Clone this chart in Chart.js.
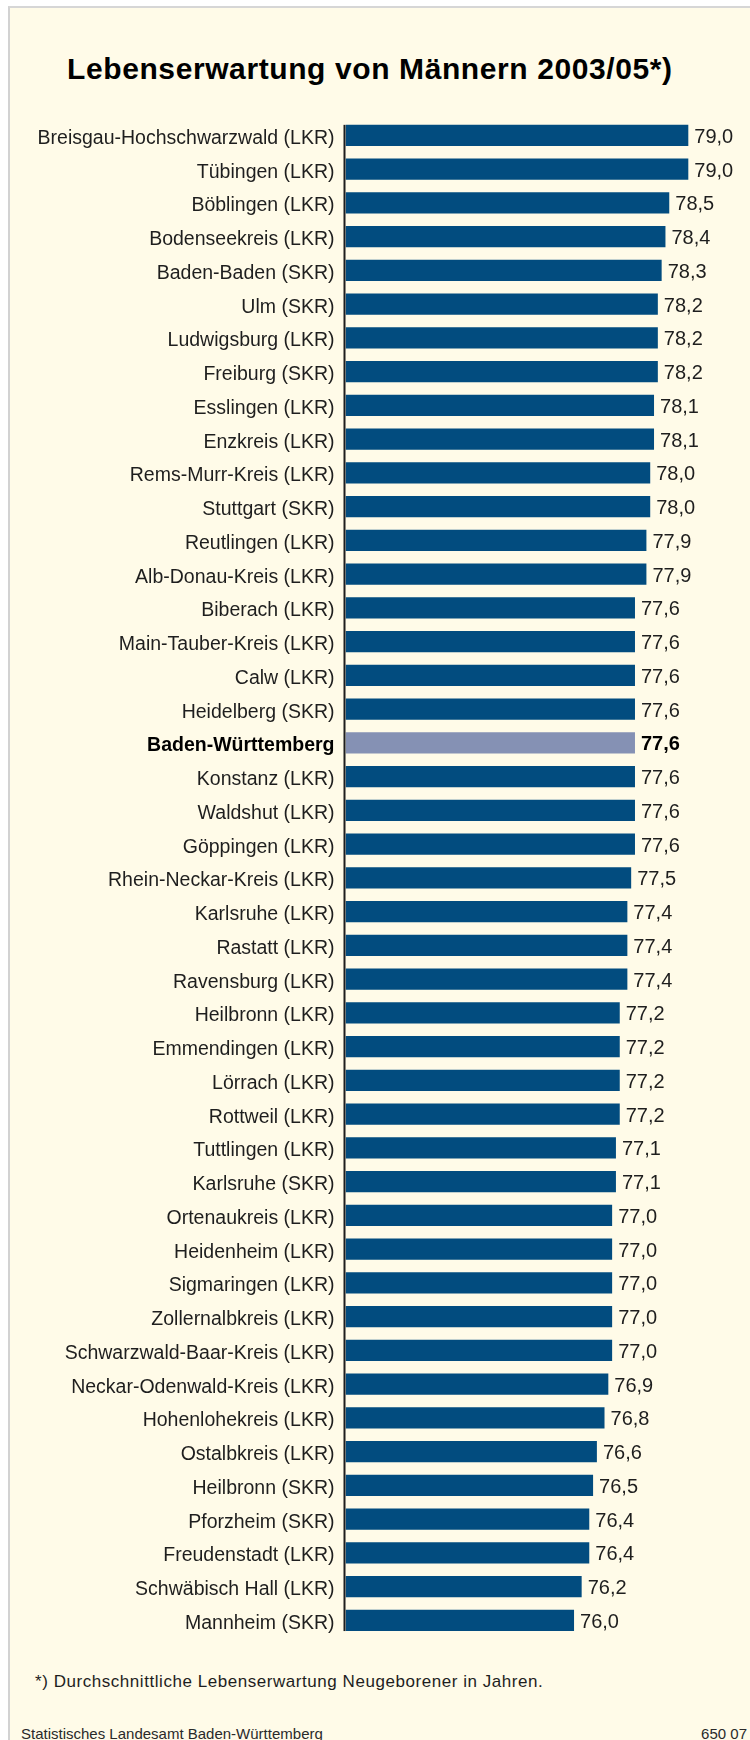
<!DOCTYPE html>
<html lang="de">
<head>
<meta charset="utf-8">
<title>Lebenserwartung von Männern 2003/05</title>
<script src="https://cdn.jsdelivr.net/npm/chart.js@4.4.1/dist/chart.umd.min.js"></script>
<style>
    html, body {
        margin: 0;
        padding: 0;
        background: #ffffff;
    }
    #page {
        position: relative;
        width: 750px;
        height: 1740px;
        overflow: hidden;
        font-family: "Liberation Sans", Arial, sans-serif;
        color: #1e1e1e;
    }
    #panel {
        position: absolute;
        left: 8px;
        top: 6px;
        right: -4px;
        bottom: -4px;
        background: #fffbe8;
        border-left: 2px solid #d2d2d2;
        border-top: 2px solid #d6d6d6;
    }
    #title {
        position: absolute;
        left: 67px;
        top: 54px;
        font-size: 30px;
        line-height: 30px;
        font-weight: bold;
        letter-spacing: 0.6px;
        color: #000;
        white-space: nowrap;
    }
    #chartBox {
        position: absolute;
        left: 0;
        top: 0;
        width: 750px;
        height: 1660px;
    }
    #note {
        position: absolute;
        left: 35px;
        top: 1673px;
        font-size: 17px;
        line-height: 17px;
        letter-spacing: 0.55px;
        color: #1e1e1e;
        white-space: nowrap;
    }
    .source {
        position: absolute;
        top: 1726px;
        font-size: 15px;
        line-height: 15px;
        color: #2a2a2a;
        white-space: nowrap;
    }
</style>
</head>
<body>
<div id="page">
    <div id="panel"></div>
    <div id="title">Lebenserwartung von Männern 2003/05*)</div>
    <div id="chartBox"><canvas id="chart"></canvas></div>
    <div id="note">*) Durchschnittliche Lebenserwartung Neugeborener in Jahren.</div>
    <div class="source" style="left: 21px;">Statistisches Landesamt Baden-Württemberg</div>
    <div class="source" style="right: 3px;">650 07</div>
</div>
<script>
// Kreise in order of the chart, top to bottom
const regions = [
    "Breisgau-Hochschwarzwald (LKR)",
    "Tübingen (LKR)",
    "Böblingen (LKR)",
    "Bodenseekreis (LKR)",
    "Baden-Baden (SKR)",
    "Ulm (SKR)",
    "Ludwigsburg (LKR)",
    "Freiburg (SKR)",
    "Esslingen (LKR)",
    "Enzkreis (LKR)",
    "Rems-Murr-Kreis (LKR)",
    "Stuttgart (SKR)",
    "Reutlingen (LKR)",
    "Alb-Donau-Kreis (LKR)",
    "Biberach (LKR)",
    "Main-Tauber-Kreis (LKR)",
    "Calw (LKR)",
    "Heidelberg (SKR)",
    "Baden-Württemberg",
    "Konstanz (LKR)",
    "Waldshut (LKR)",
    "Göppingen (LKR)",
    "Rhein-Neckar-Kreis (LKR)",
    "Karlsruhe (LKR)",
    "Rastatt (LKR)",
    "Ravensburg (LKR)",
    "Heilbronn (LKR)",
    "Emmendingen (LKR)",
    "Lörrach (LKR)",
    "Rottweil (LKR)",
    "Tuttlingen (LKR)",
    "Karlsruhe (SKR)",
    "Ortenaukreis (LKR)",
    "Heidenheim (LKR)",
    "Sigmaringen (LKR)",
    "Zollernalbkreis (LKR)",
    "Schwarzwald-Baar-Kreis (LKR)",
    "Neckar-Odenwald-Kreis (LKR)",
    "Hohenlohekreis (LKR)",
    "Ostalbkreis (LKR)",
    "Heilbronn (SKR)",
    "Pforzheim (SKR)",
    "Freudenstadt (LKR)",
    "Schwäbisch Hall (LKR)",
    "Mannheim (SKR)",
]

// life expectancy in years
const lifeExpectancy = [
    79.0, 79.0, 78.5, 78.4, 78.3, 78.2, 78.2, 78.2, 78.1, 78.1,
    78.0, 78.0, 77.9, 77.9, 77.6, 77.6, 77.6, 77.6, 77.6, 77.6,
    77.6, 77.6, 77.5, 77.4, 77.4, 77.4, 77.2, 77.2, 77.2, 77.2,
    77.1, 77.1, 77.0, 77.0, 77.0, 77.0, 77.0, 76.9, 76.8, 76.6,
    76.5, 76.4, 76.4, 76.2, 76.0,
]

const stateName = "Baden-Württemberg"
const xMin = 70
const xMax = 80

const barColor = "#024c7f"
const stateColor = "#8591b4"
const textColor = "#1e1e1e"
const fontFamily = "'Liberation Sans', Arial, sans-serif"

const formatValue = (v) => v.toFixed(1).replace(".", ",")

// axis line and the numbers at the end of each bar
const barLabels = {
    id: "barLabels",
    afterDatasetsDraw(chart) {
        const ctx = chart.ctx
        const meta = chart.getDatasetMeta(0)
        const first = meta.data[0]
        const last = meta.data[meta.data.length - 1]
        const ax = chart.scales.x.getPixelForValue(xMin)

        ctx.save()
        ctx.fillStyle = textColor
        const top = first.y - first.height / 2
        const bottom = last.y + last.height / 2
        ctx.fillRect(ax - 2, top, 2, bottom - top)

        ctx.textAlign = "left"
        ctx.textBaseline = "middle"
        meta.data.forEach((bar, i) => {
            const isState = regions[i] === stateName
            ctx.font = (isState ? "bold " : "") + "20px " + fontFamily
            ctx.fillStyle = isState ? "#000" : textColor
            ctx.fillText(formatValue(lifeExpectancy[i]), bar.x + 6, bar.y + 2)
        })
        ctx.restore()
    },
}

new Chart(document.getElementById("chart"), {
    type: "bar",
    data: {
        labels: regions,
        datasets: [
            {
                data: lifeExpectancy,
                backgroundColor: regions.map((r) => (r === stateName ? stateColor : barColor)),
                borderWidth: 0,
                categoryPercentage: 1,
                barPercentage: 0.63,
                base: xMin,
            },
        ],
    },
    options: {
        indexAxis: "y",
        responsive: true,
        maintainAspectRatio: false,
        animation: false,
        events: [],
        layout: {
            padding: { top: 118.6, bottom: 19, left: 0, right: 23.6 },
        },
        plugins: {
            legend: { display: false },
            title: { display: false },
            tooltip: { enabled: false },
        },
        scales: {
            x: {
                display: false,
                min: xMin,
                max: xMax,
            },
            y: {
                afterFit: (scale) => {
                    scale.width = 345.5
                },
                grid: { display: false, drawTicks: false },
                border: { display: false },
                ticks: {
                    padding: 11,
                    labelOffset: 3,
                    autoSkip: false,
                    color: (ctx) => (ctx.tick && ctx.tick.label === stateName ? "#000" : textColor),
                    font: (ctx) => ({
                        family: fontFamily,
                        size: 19.5,
                        weight: ctx.tick && ctx.tick.label === stateName ? "bold" : "normal",
                    }),
                },
            },
        },
    },
    plugins: [barLabels],
})
</script>
</body>
</html>
